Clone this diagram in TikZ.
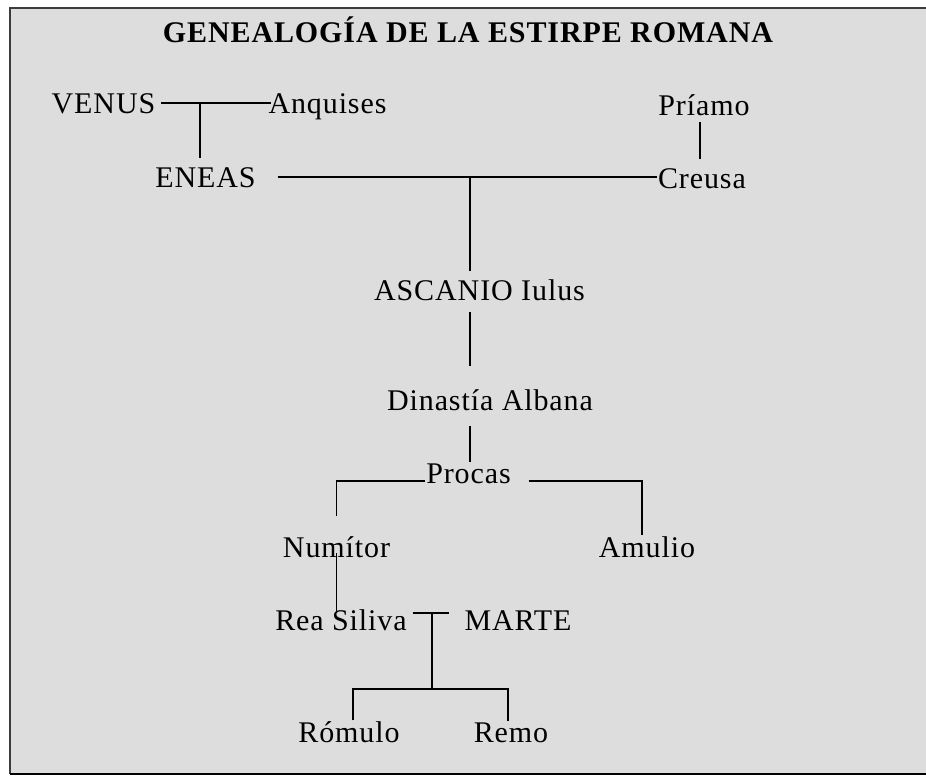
\documentclass[tikz,border=0pt]{standalone}
\usepackage{fontspec}
\setmainfont{Liberation Serif}[LetterSpace=3]
\usetikzlibrary{calc}
\definecolor{boxgray}{RGB}{220,221,220}
\definecolor{framegray}{RGB}{60,60,60}
\begin{document}
\begin{tikzpicture}[x=1pt,y=-1pt,line width=1.8pt,
    every node/.style={font=\fontsize{30}{36}\selectfont,inner sep=0pt,anchor=base}]
        \useasboundingbox (0,0) rectangle (926,777);
        \fill[boxgray] (10,8) rectangle (926,774);
        \draw[framegray,line width=2pt] (926,8) -- (10,8) -- (10,774);
        \draw[line width=2.5pt] (10,774) -- (926,774);
        \node (title) at (468,42) {\bfseries GENEALOGÍA DE LA ESTIRPE ROMANA};
        \node (VENUS) at (103.5,113) {VENUS};
        \node (Anquises) at (327.5,113) {Anquises};
        \node (Priamo) at (704,115) {Príamo};
        \node (ENEAS) at (205.5,187) {ENEAS};
        \node (Creusa) at (702,188) {Creusa};
        \node (ASCANIO) at (479.5,300) {ASCANIO Iulus};
        \node (Dinastia) at (490,410) {Dinastía Albana};
        \node (Procas) at (468.5,483) {Procas};
        \node (Numitor) at (336.5,557) {Numítor};
        \node (Amulio) at (647,557) {Amulio};
        \node (ReaSiliva) at (341,630) {Rea Siliva};
        \node (MARTE) at (518,630) {MARTE};
        \node (Romulo) at (349,742) {Rómulo};
        \node (Remo) at (511,742) {Remo};
        \coordinate (VA) at (200,103);
        \coordinate (EC) at (470,178);
        \coordinate (RM) at (432,613);
        \coordinate (kids) at (432,689);
        \draw ([xshift=5pt]VENUS.east) -- ([xshift=3pt]VENUS.east -| Anquises.west);
        \draw (VA) -- ($(VA |- ENEAS.north)+(0,-8)$);
        \draw ([xshift=21pt]ENEAS.east) -- (ENEAS.east -| Creusa.west);
        \draw ($(Priamo.south)+(-4,6)$) -- ($(Priamo.south |- Creusa.north)+(-4,-8)$);
        \draw (EC) -- ($(EC |- ASCANIO.north)+(0,-7)$);
        \draw ($(EC |- ASCANIO.south)+(0,11)$) -- ($(EC |- Dinastia.north)+(0,-22)$);
        \draw ($(EC |- Dinastia.south)+(0,15)$) -- (EC |- Procas.north);
        \draw ($(Procas.base west)+(0,-2)$) -| ($(Numitor.north)+(0,-19)$);
        \draw ($(Procas.base east)+(17,-2)$) -| ($(Amulio.north)+(-5,0)$);
        \draw ($(Numitor.south)+(0,-5)$) -- ($(Numitor.south |- ReaSiliva.north)+(0,3)$);
        \draw ($(ReaSiliva.east)+(5,-7)$) -- ($(ReaSiliva.east -| MARTE.west)+(-15,-7)$);
        \draw (RM) -- (kids);
        \draw ($(Romulo.north)+(4,0)$) |- (kids) -| ($(Remo.north)+(-3,0)$);
      \end{tikzpicture}
\end{document}
